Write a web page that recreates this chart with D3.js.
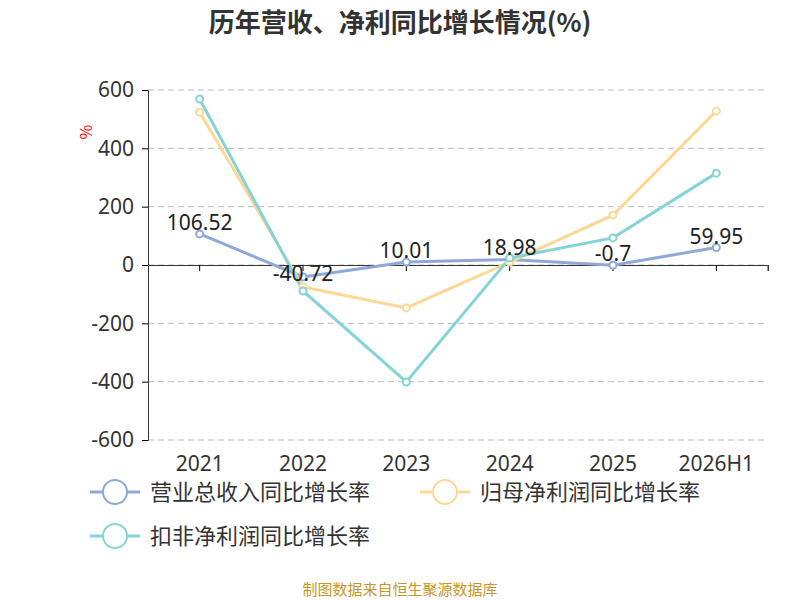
<!DOCTYPE html>
<html><head><meta charset="utf-8">
<script src="https://cdn.jsdelivr.net/npm/d3@7"></script>
<style>body{margin:0;background:#fff;font-family:"Noto Sans CJK SC","Noto Sans",sans-serif}</style>
</head><body><svg width="800" height="600"></svg>
<script>
const categories = ["2021","2022","2023","2024","2025","2026H1"];
const revenue = [106.52,-40.72,10.01,18.98,-0.7,59.95];
const netProfit = [524,-75,-147,10,171,528];
const deductedProfit = [569,-89,-401,24,93,315];
const yTicks = [-600,-400,-200,0,200,400,600];
const series = [
  {name:"营业总收入同比增长率", values:revenue, color:"#8fa8d8"},
  {name:"归母净利润同比增长率", values:netProfit, color:"#fcd894"},
  {name:"扣非净利润同比增长率", values:deductedProfit, color:"#84d4d6"}
];

const svg = d3.select("svg");
const x = d3.scaleBand().domain(categories).range([148,768]);
const y = d3.scaleLinear().domain([-600,600]).range([440,90]);

svg.append("text").attr("x",400).attr("y",32).attr("text-anchor","middle")
  .attr("font-size",26).attr("font-weight","bold").attr("fill","#333").text("历年营收、净利同比增长情况(%)");

svg.selectAll(".grid").data(yTicks).join("line")
  .attr("x1",148).attr("x2",768).attr("y1",d=>y(d)).attr("y2",d=>y(d))
  .attr("stroke","#bbb").attr("stroke-dasharray","6,4");

const ya = svg.append("g").attr("transform","translate(148,0)")
  .call(d3.axisLeft(y).tickValues(yTicks).tickSize(6).tickPadding(8).tickFormat(d=>String(d)));
ya.selectAll("text").attr("font-size",21).attr("fill","#333").attr("font-family","Noto Sans");
ya.select(".domain").attr("stroke","#333");

const xa = svg.append("g").attr("transform",`translate(0,${y(0)})`)
  .call(d3.axisBottom(x).tickSizeOuter(0).tickSize(6).tickFormat(""));
xa.select(".domain").attr("stroke","#333");
svg.append("line").attr("x1",768).attr("x2",768).attr("y1",y(0)).attr("y2",y(0)+6).attr("stroke","#333");
svg.selectAll(".xl").data(categories).join("text")
  .attr("x",d=>x(d)+x.bandwidth()/2).attr("y",471).attr("text-anchor","middle")
  .attr("font-size",21).attr("fill","#333").attr("font-family","Noto Sans").text(d=>d);

svg.append("text").attr("transform","translate(92,132) rotate(-90)").attr("text-anchor","middle")
  .attr("font-size",16).attr("fill","red").text("%");

const cx = d=>x(d)+x.bandwidth()/2;
const line = d3.line().x((d,i)=>cx(categories[i])).y(d=>y(d));
series.forEach(s=>{
  svg.append("path").attr("d",line(s.values)).attr("fill","none").attr("stroke",s.color).attr("stroke-width",3);
});
series.forEach(s=>{
  svg.selectAll(null).data(s.values).join("circle")
    .attr("cx",(d,i)=>cx(categories[i])).attr("cy",d=>y(d)).attr("r",3.5)
    .attr("fill","#fff").attr("stroke",s.color).attr("stroke-width",2);
});
svg.selectAll(".vl").data(revenue).join("text")
  .attr("x",(d,i)=>cx(categories[i])).attr("y",(d,i)=>i===1?y(d)+4:y(d)-4).attr("text-anchor","middle")
  .attr("font-size",21).attr("fill","#222").attr("font-family","Noto Sans").text(d=>String(d));

const leg = [[90,492],[420,492],[90,536]];
series.forEach((s,i)=>{
  const [lx,ly]=leg[i];
  svg.append("line").attr("x1",lx).attr("x2",lx+50).attr("y1",ly).attr("y2",ly).attr("stroke",s.color).attr("stroke-width",3);
  svg.append("circle").attr("cx",lx+25).attr("cy",ly).attr("r",12).attr("fill","#fff").attr("stroke",s.color).attr("stroke-width",2);
  svg.append("text").attr("x",lx+60).attr("y",ly+8).attr("font-size",22).attr("fill","#333").text(s.name);
});

svg.append("text").attr("x",400).attr("y",595).attr("text-anchor","middle")
  .attr("font-size",15).attr("fill","#c8962a").text("制图数据来自恒生聚源数据库");
</script></body></html>
